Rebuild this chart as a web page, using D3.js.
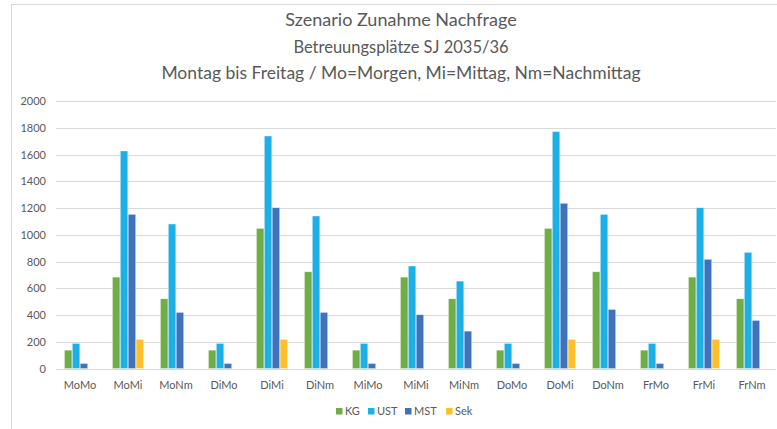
<!DOCTYPE html>
<html>
<head>
<meta charset="utf-8">
<script src="https://cdn.jsdelivr.net/npm/d3@7"></script>
<style>
  body { margin: 0; background: #fff; }
  text { font-family: Lato, "Open Sans", sans-serif; fill: #595959; }
</style>
</head>
<body>
<div id="chart"></div>
<script>
// categories (day + time slot) and the four series
const categories = ["MoMo", "MoMi", "MoNm", "DiMo", "DiMi", "DiNm", "MiMo", "MiMi", "MiNm",
                    "DoMo", "DoMi", "DoNm", "FrMo", "FrMi", "FrNm"];
const seriesNames = ["KG", "UST", "MST", "Sek"];
const kg  = [137, 683, 521, 137, 1047, 723, 137, 683, 521, 137, 1047, 723, 137, 683, 521];
const ust = [187, 1626, 1080, 187, 1738, 1140, 187, 766, 653, 187, 1771, 1152, 187, 1202, 868];
const mst = [37, 1152, 419, 37, 1202, 419, 37, 402, 279, 37, 1235, 441, 37, 816, 359];
const sek = [0, 217, 0, 0, 217, 0, 0, 0, 0, 0, 217, 0, 0, 217, 0];
const yTicks = [0, 200, 400, 600, 800, 1000, 1200, 1400, 1600, 1800, 2000];
const titles = ["Szenario Zunahme Nachfrage", "Betreuungsplätze SJ 2035/36",
                "Montag bis Freitag / Mo=Morgen, Mi=Mittag, Nm=Nachmittag"];

const colors = { KG: "#70ad47", UST: "#1cb0e6", MST: "#3e72bd", Sek: "#ffc02a" };
const values = { KG: kg, UST: ust, MST: mst, Sek: sek };

const W = 777, H = 429;
const plot = { left: 56, right: 776, top: 101, bottom: 368.5 };

const svg = d3.select("#chart").append("svg")
  .attr("width", W)
  .attr("height", H);

svg.append("rect").attr("width", W).attr("height", H).attr("fill", "#fff");

// chart frame (cut off at right/bottom like the screenshot)
svg.append("rect")
  .attr("x", 11.5).attr("y", 4.5)
  .attr("width", 800).attr("height", 500)
  .attr("fill", "none")
  .attr("stroke", "#d9d9d9");

// titles
const titleY = [26, 53, 79];
const titleSize = [18, 16.5, 17.5];
titles.forEach((t, i) => {
  svg.append("text")
    .attr("x", 401)
    .attr("y", titleY[i])
    .attr("text-anchor", "middle")
    .style("font-size", titleSize[i] + "px")
    .text(t);
});

// scales
const x0 = d3.scaleBand()
  .domain(categories)
  .range([plot.left, plot.right])
  .paddingInner(1 / 3)
  .paddingOuter(1 / 6);

const x1 = d3.scaleBand()
  .domain(seriesNames)
  .range([0, x0.bandwidth()])
  .padding(0.06);

const y = d3.scaleLinear()
  .domain([0, 2000])
  .range([plot.bottom, plot.top]);

// gridlines
svg.append("g")
  .selectAll("line")
  .data(yTicks)
  .join("line")
    .attr("x1", plot.left)
    .attr("x2", plot.right)
    .attr("y1", d => Math.round(y(d)) + 0.5)
    .attr("y2", d => Math.round(y(d)) + 0.5)
    .attr("stroke", "#d9d9d9")
    .attr("stroke-width", 1);

// y labels
svg.append("g")
  .selectAll("text")
  .data(yTicks)
  .join("text")
    .attr("x", 46)
    .attr("y", d => y(d) + 4)
    .attr("text-anchor", "end")
    .style("font-size", "11px")
    .text(d => d);

// bars grouped per category
const groups = svg.append("g")
  .selectAll("g")
  .data(categories)
  .join("g")
    .attr("transform", d => `translate(${x0(d)},0)`);

groups.selectAll("rect")
  .data((d, i) => seriesNames.map(s => ({ s, v: values[s][i] })).filter(e => e.v > 0))
  .join("rect")
    .attr("x", d => x1(d.s))
    .attr("y", d => y(d.v))
    .attr("width", x1.bandwidth())
    .attr("height", d => y(0) - y(d.v))
    .attr("fill", d => colors[d.s])
    .attr("stroke", "#fff")
    .attr("stroke-opacity", 0.5)
    .attr("stroke-width", 0.6);

// category labels
svg.append("g")
  .selectAll("text")
  .data(categories)
  .join("text")
    .attr("x", d => x0(d) + x0.bandwidth() / 2)
    .attr("y", 389)
    .attr("text-anchor", "middle")
    .style("font-size", "11px")
    .text(d => d);

// legend
const legendX = [336, 368, 405, 446];
const legend = svg.append("g")
  .selectAll("g")
  .data(seriesNames)
  .join("g")
    .attr("transform", (d, i) => `translate(${legendX[i]},408)`);

legend.append("rect")
  .attr("width", 6.5).attr("height", 6.5)
  .attr("fill", d => colors[d]);

legend.append("text")
  .attr("x", 9)
  .attr("y", 6.5)
  .style("font-size", "11px")
  .text(d => d);
</script>
</body>
</html>
